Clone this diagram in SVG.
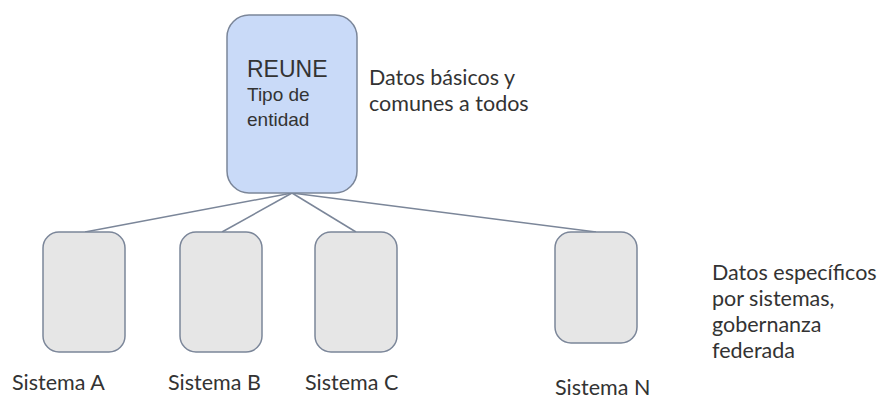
<svg xmlns="http://www.w3.org/2000/svg" width="880" height="399" viewBox="0 0 880 399">
<style>
.box{stroke:#7b8699;stroke-width:1.5}
.main{fill:#c9daf8}
.sub{fill:#e6e6e6}
.arial{font-family:"Liberation Sans",Arial,sans-serif;fill:#333}
.cal{font-family:Lato,"Liberation Sans",sans-serif;font-size:21.5px;fill:#333}
.conn{stroke:#7b8699;stroke-width:1.5;fill:none}
</style>
<rect width="880" height="399" fill="#fff"/>
<g id="connectors">
<line class="conn" x1="292" y1="193" x2="85" y2="232"/>
<line class="conn" x1="292" y1="193" x2="222" y2="232"/>
<line class="conn" x1="292" y1="193" x2="356" y2="232"/>
<line class="conn" x1="292" y1="193" x2="596" y2="232"/>
</g>
<g id="reune">
<rect class="box main" x="227" y="15" width="130" height="178" rx="22"/>
<text class="arial" x="247" y="77" font-size="23">REUNE</text>
<text class="arial" x="247" y="101" font-size="19">Tipo de</text>
<text class="arial" x="247" y="126" font-size="19">entidad</text>
</g>
<g id="note-top">
<text class="cal" x="369" y="85">Datos básicos y</text>
<text class="cal" x="369" y="111">comunes a todos</text>
</g>
<g id="sistema-a">
<rect class="box sub" x="43" y="232" width="82" height="120" rx="16"/>
<text class="cal" x="12" y="390">Sistema A</text>
</g>
<g id="sistema-b">
<rect class="box sub" x="180" y="232" width="82" height="120" rx="16"/>
<text class="cal" x="168" y="390">Sistema B</text>
</g>
<g id="sistema-c">
<rect class="box sub" x="315" y="232" width="82" height="120" rx="16"/>
<text class="cal" x="305" y="390">Sistema C</text>
</g>
<g id="sistema-n">
<rect class="box sub" x="555" y="232" width="82" height="111" rx="16"/>
<text class="cal" x="555" y="395">Sistema N</text>
</g>
<g id="note-bottom">
<text class="cal" x="712" y="280">Datos específicos</text>
<text class="cal" x="712" y="306">por sistemas,</text>
<text class="cal" x="712" y="332">gobernanza</text>
<text class="cal" x="712" y="358">federada</text>
</g>
</svg>
